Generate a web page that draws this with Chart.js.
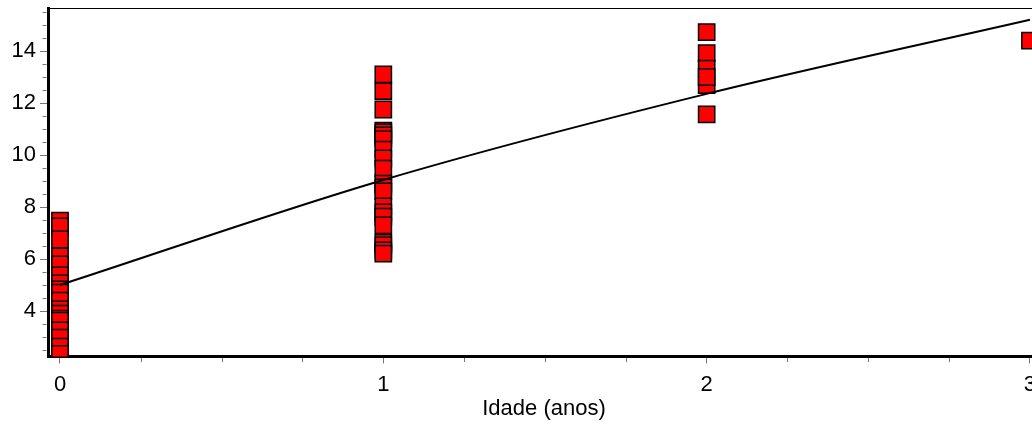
<!DOCTYPE html>
<html>
<head>
<meta charset="utf-8">
<script src="https://cdn.jsdelivr.net/npm/chart.js@4/dist/chart.umd.min.js"></script>
<style>
  html, body { margin: 0; padding: 0; background: #fff; overflow: hidden; }
  #wrap { width: 1032px; height: 427px; overflow: hidden; }
</style>
</head>
<body>
<div id="wrap"><canvas id="chart" width="1044" height="427"></canvas></div>
<script>
// ages (years) and measured lengths per age class, listed in drawing order
const ages = [0, 1, 2, 3];
const lengthAge0 = [7.48, 7.25, 6.75, 6.10, 5.79, 5.37, 5.06, 4.83, 4.71, 4.40,
                    4.06, 3.90, 3.71, 3.63, 3.25, 2.98, 2.63, 2.35];
const lengthAge1 = [13.10, 12.46, 11.75, 10.94, 10.87, 10.75, 10.60, 10.21, 9.87, 9.48,
                    8.90, 8.75, 8.60, 8.02, 7.79, 7.63, 7.29, 6.63, 6.52, 6.33, 6.21];
const lengthAge2 = [14.73, 13.92, 13.32, 12.69, 13.00, 11.56];
const lengthAge3 = [14.40];
// fitted growth curve at each age
const fitted = [5.0, 9.04, 12.35, 15.2];
const xTitle = 'Idade (anos)';

const byAge = [lengthAge0, lengthAge1, lengthAge2, lengthAge3];
const points = [];
byAge.forEach((vals, i) => vals.forEach(v => points.push({ x: ages[i], y: v })));
const curve = ages.map((a, i) => ({ x: a, y: fitted[i] }));

const isMajorY = v => Math.abs(v / 2 - Math.round(v / 2)) < 1e-6;
const isMajorX = v => Math.abs(v - Math.round(v)) < 1e-6;

Chart.defaults.font.family = '"Liberation Sans", Arial, sans-serif';
Chart.defaults.font.size = 22;
Chart.defaults.color = '#000';

// keep the plot area fixed: no extra room for edge labels
const noPad = s => { s.paddingLeft = 0; s.paddingRight = 0; s.paddingTop = 0; s.paddingBottom = 0; };

// short minor ticks plus the thin top frame line
const frame = {
  id: 'frame',
  afterDraw(chart) {
    const ctx = chart.ctx;
    const a = chart.chartArea;
    const xs = chart.scales.x, ys = chart.scales.y;
    ctx.save();
    ctx.strokeStyle = '#777';
    ctx.lineWidth = 1;
    ctx.beginPath();
    ys.ticks.forEach(t => {
      if (isMajorY(t.value)) return;
      const y = Math.round(ys.getPixelForValue(t.value)) + 0.5;
      ctx.moveTo(a.left - 1.5, y);
      ctx.lineTo(a.left - 5.5, y);
    });
    xs.ticks.forEach(t => {
      if (isMajorX(t.value)) return;
      const x = Math.round(xs.getPixelForValue(t.value)) + 0.5;
      ctx.moveTo(x, a.bottom + 1.5);
      ctx.lineTo(x, a.bottom + 5.5);
    });
    ctx.stroke();
    ctx.strokeStyle = '#000';
    ctx.beginPath();
    ctx.moveTo(a.left, Math.round(a.top) + 0.5);
    ctx.lineTo(a.right, Math.round(a.top) + 0.5);
    ctx.stroke();
    ctx.restore();
  }
};

new Chart(document.getElementById('chart'), {
  type: 'scatter',
  data: {
    datasets: [
      {
        type: 'line',
        data: curve,
        borderColor: '#000',
        borderWidth: 2,
        pointRadius: 0,
        cubicInterpolationMode: 'monotone',
        fill: false,
        order: 0
      },
      {
        data: points,
        pointStyle: 'rect',
        pointRadius: 11.5,
        backgroundColor: '#ff0000',
        borderColor: '#000',
        borderWidth: 1.5,
        order: 1
      }
    ]
  },
  options: {
    responsive: false,
    animation: false,
    events: [],
    layout: { autoPadding: false, padding: { top: 8, right: 4, left: 0, bottom: 0 } },
    plugins: { legend: { display: false }, tooltip: { enabled: false } },
    scales: {
      x: {
        type: 'linear',
        min: -0.0371,
        max: 3.031,
        afterFit: s => { s.height = 70.5; noPad(s); },
        border: { color: '#000', width: 3 },
        grid: {
          drawOnChartArea: false,
          tickLength: 7,
          tickColor: c => (c.tick && isMajorX(c.tick.value)) ? '#777' : 'rgba(0,0,0,0)'
        },
        ticks: {
          stepSize: 0.25,
          includeBounds: false,
          maxRotation: 0,
          autoSkip: false,
          padding: 8,
          callback: v => isMajorX(v) ? String(Math.round(v)) : ''
        },
        title: { display: true, text: xTitle, padding: { top: 0, bottom: 5 } }
      },
      y: {
        type: 'linear',
        min: 2.25,
        max: 15.654,
        afterFit: s => { s.width = 48; noPad(s); },
        border: { color: '#000', width: 3 },
        grid: {
          drawOnChartArea: false,
          tickLength: 8,
          tickColor: c => (c.tick && isMajorY(c.tick.value)) ? '#777' : 'rgba(0,0,0,0)'
        },
        ticks: {
          stepSize: 0.5,
          includeBounds: false,
          autoSkip: false,
          padding: 4,
          callback: v => isMajorY(v) ? String(Math.round(v)) : ''
        }
      }
    }
  },
  plugins: [frame]
});
</script>
</body>
</html>
